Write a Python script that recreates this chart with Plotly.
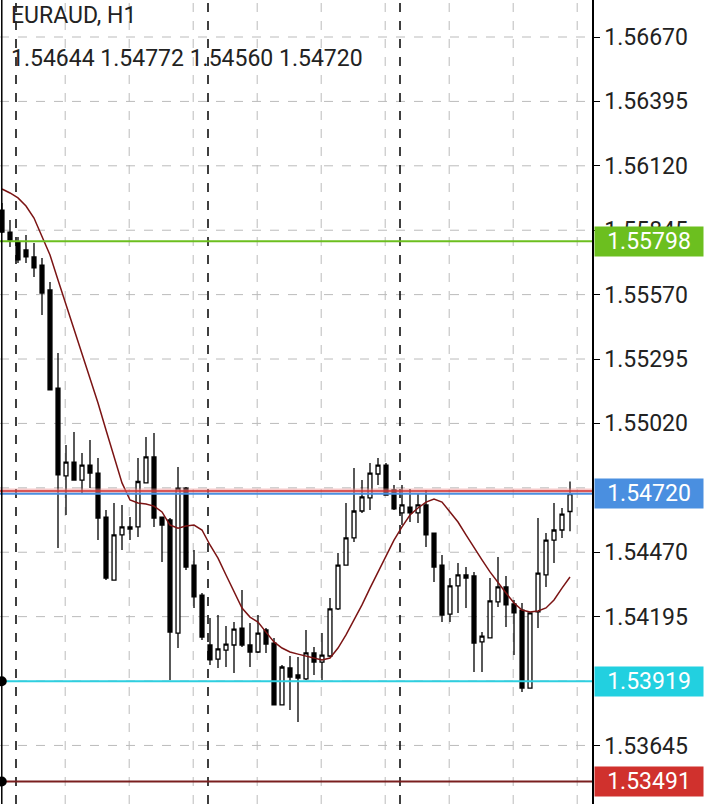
import plotly.graph_objects as go

symbol = "EURAUD, H1"
ohlc_text = "1.54644 1.54772 1.54560 1.54720"

opens = [1.55931,1.55837,1.55795,1.55761,1.55731,1.55696,1.55590,1.55171,1.54796,1.54855,
         1.54778,1.54842,1.54808,1.54620,1.54351,1.54544,1.54578,1.54578,1.54766,1.54877,
         1.54620,1.54608,1.54125,1.54744,1.54415,1.54287,1.54074,1.54014,1.54052,1.54074,
         1.54146,1.54074,1.54044,1.54138,1.54082,1.53818,1.53976,1.53946,1.53929,1.54040,
         1.54001,1.54027,1.54228,1.54415,1.54531,1.54646,1.54702,1.54804,1.54842,1.54736,
         1.54638,1.54663,1.54638,1.54672,1.54552,1.54415,1.54206,1.54326,1.54373,1.54369,
         1.54087,1.54104,1.54258,1.54322,1.54249,1.54223,1.53890,1.54215,1.54373,1.54522,
         1.54565,1.54644]
highs = [1.55961,1.55889,1.55816,1.55825,1.55790,1.55726,1.55624,1.55321,1.54928,1.54983,
         1.54894,1.54949,1.54872,1.54650,1.54680,1.54672,1.54620,1.54872,1.54962,1.54979,
         1.54620,1.54616,1.54834,1.54749,1.54480,1.54296,1.54189,1.54202,1.54155,1.54172,
         1.54309,1.54168,1.54202,1.54146,1.54104,1.53988,1.54027,1.54023,1.54138,1.54065,
         1.54125,1.54275,1.54467,1.54680,1.54830,1.54778,1.54851,1.54872,1.54851,1.54757,
         1.54757,1.54740,1.54723,1.54736,1.54552,1.54458,1.54360,1.54424,1.54407,1.54386,
         1.54129,1.54360,1.54450,1.54369,1.54266,1.54253,1.54211,1.54616,1.54552,1.54680,
         1.54659,1.54772]
lows = [1.55833,1.55773,1.55705,1.55705,1.55645,1.55483,1.55163,1.54488,1.54629,1.54778,
        1.54723,1.54744,1.54522,1.54351,1.54351,1.54480,1.54522,1.54535,1.54766,1.54578,
        1.54428,1.53924,1.54061,1.54394,1.54232,1.54095,1.53988,1.53976,1.53980,1.53954,
        1.54065,1.53980,1.54040,1.54040,1.53818,1.53818,1.53796,1.53745,1.53924,1.53946,
        1.53924,1.54023,1.54223,1.54415,1.54514,1.54638,1.54650,1.54757,1.54714,1.54650,
        1.54586,1.54599,1.54595,1.54492,1.54343,1.54172,1.54172,1.54211,1.54232,1.53959,
        1.53959,1.54104,1.54236,1.54151,1.54031,1.53873,1.53890,1.54146,1.54322,1.54424,
        1.54531,1.54560]
closes = [1.55837,1.55803,1.55718,1.55731,1.55684,1.55577,1.55163,1.54800,1.54855,1.54778,
          1.54842,1.54808,1.54616,1.54360,1.54544,1.54578,1.54569,1.54772,1.54877,1.54616,
          1.54586,1.54129,1.54744,1.54407,1.54279,1.54108,1.54010,1.54057,1.54078,1.54142,
          1.54074,1.54044,1.54125,1.54078,1.53818,1.53980,1.53937,1.53933,1.54040,1.54001,
          1.54031,1.54228,1.54415,1.54531,1.54646,1.54706,1.54808,1.54842,1.54714,1.54655,
          1.54672,1.54638,1.54672,1.54544,1.54407,1.54202,1.54326,1.54373,1.54360,1.54082,
          1.54112,1.54262,1.54322,1.54245,1.54211,1.53890,1.54211,1.54381,1.54522,1.54565,
          1.54633,1.54720]
ma = [1.56021,1.56004,1.55983,1.55948,1.55897,1.55820,1.55739,1.55632,1.55526,1.55419,
      1.55321,1.55214,1.55107,1.54992,1.54877,1.54766,1.54693,1.54680,1.54676,1.54667,
      1.54642,1.54586,1.54573,1.54582,1.54586,1.54565,1.54501,1.54445,1.54373,1.54300,
      1.54232,1.54193,1.54172,1.54129,1.54087,1.54061,1.54044,1.54035,1.54027,1.54018,
      1.54010,1.54018,1.54061,1.54117,1.54181,1.54245,1.54317,1.54386,1.54454,1.54522,
      1.54578,1.54629,1.54659,1.54684,1.54697,1.54684,1.54642,1.54599,1.54544,1.54488,
      1.54437,1.54386,1.54339,1.54296,1.54253,1.54223,1.54215,1.54219,1.54232,1.54266,
      1.54317,1.54364]
tick_vals = [1.56670,1.56395,1.56120,1.55845,1.55570,1.55295,1.55020,1.54470,1.54195,1.53645]
grid_vals = [1.56670,1.56395,1.56120,1.55845,1.55570,1.55295,1.55020,1.54745,1.54470,1.54195,1.53920,1.53645]
level_vals = [1.55798, 1.54720, 1.53919, 1.53491]
level_colors = ["#6cbf1f", "#4a8fe0", "#2ecfe0", "#7a1f1f"]
badge_colors = ["#6cbf1f", "#4a8fe0", "#22d0e0", "#d0312d"]
ask_val = 1.54732
day_breaks = [1.75, 25.75, 49.75]
grid_x = [7.9, 15.9, 23.9, 31.9, 39.9, 47.9, 55.9, 63.9, 71.9]

x = list(range(len(opens)))
fig = go.Figure()
fig.add_trace(go.Candlestick(x=x, open=opens, high=highs, low=lows, close=closes,
    increasing=dict(line=dict(color="black", width=1.3), fillcolor="white"),
    decreasing=dict(line=dict(color="black", width=1.3), fillcolor="black"),
    whiskerwidth=0, showlegend=False, hoverinfo="skip"))
fig.add_trace(go.Scatter(x=x, y=ma, mode="lines", line=dict(color="#7b1414", width=1.5),
                         showlegend=False, hoverinfo="skip"))

shapes = []
for t in grid_vals:
    shapes.append(dict(type="line", xref="paper", x0=0, x1=1, yref="y", y0=t, y1=t,
                       line=dict(color="#bbbbbb", width=1, dash="dash"), layer="below"))
for g in grid_x:
    shapes.append(dict(type="line", xref="x", x0=g, x1=g, yref="paper", y0=0, y1=1,
                       line=dict(color="#bbbbbb", width=1, dash="dash"), layer="below"))
for d in day_breaks:
    shapes.append(dict(type="line", xref="x", x0=d, x1=d, yref="paper", y0=0, y1=1,
                       line=dict(color="black", width=1.5, dash="dash"), layer="below"))
shapes.append(dict(type="line", xref="paper", x0=0, x1=1, y0=ask_val, y1=ask_val,
                   line=dict(color="rgba(240,150,150,0.5)", width=5)))
shapes.append(dict(type="line", xref="paper", x0=0, x1=1, y0=ask_val, y1=ask_val,
                   line=dict(color="#d03030", width=1.5)))
for v, c in zip(level_vals, level_colors):
    shapes.append(dict(type="line", xref="paper", x0=0, x1=1, y0=v, y1=v,
                       line=dict(color=c, width=2)))
for v in level_vals[2:]:
    shapes.append(dict(type="circle", xref="paper", yref="y", xsizemode="pixel", ysizemode="pixel",
                       xanchor=0.003, yanchor=v, x0=-4, x1=4, y0=-4, y1=4,
                       fillcolor="black", line=dict(color="black")))
shapes.append(dict(type="line", xref="paper", x0=0.003, x1=0.003, yref="paper", y0=0, y1=1,
                   line=dict(color="black", width=1.5)))

annotations = [
    dict(xref="paper", yref="paper", x=0.015, y=1.0, xanchor="left", yanchor="top",
         text=symbol, showarrow=False, font=dict(size=23, color="#222")),
    dict(xref="paper", yref="paper", x=0.015, y=0.946, xanchor="left", yanchor="top",
         text=ohlc_text, showarrow=False, font=dict(size=23, color="#222")),
]
for v, c in zip(level_vals, badge_colors):
    annotations.append(dict(xref="paper", yref="y", x=1.003, y=v, xanchor="left", yanchor="middle",
                            text=f"{v:.5f}", showarrow=False, bgcolor=c, width=106, height=27,
                            borderpad=1, font=dict(size=23, color="white")))

fig.update_layout(
    width=716, height=804, margin=dict(l=0, r=124, t=0, b=0),
    paper_bgcolor="white", plot_bgcolor="white",
    font=dict(family="Roboto, sans-serif"),
    shapes=shapes, annotations=annotations,
    xaxis=dict(range=[-0.25, 73.75], showgrid=False, zeroline=False, showticklabels=False,
               rangeslider=dict(visible=False), fixedrange=True),
    yaxis=dict(range=[1.53395, 1.56828], side="right", tickvals=tick_vals,
               ticktext=[f"{t:.5f}" for t in tick_vals], showgrid=False, zeroline=False,
               showline=True, linecolor="black", linewidth=1.5, ticks="outside", ticklen=6,
               tickcolor="black", tickfont=dict(size=23, color="#222"), fixedrange=True),
)
fig.write_html("out.html", config={"displayModeBar": False},
               post_script="document.body.style.margin='0';document.body.style.overflow='hidden';")
